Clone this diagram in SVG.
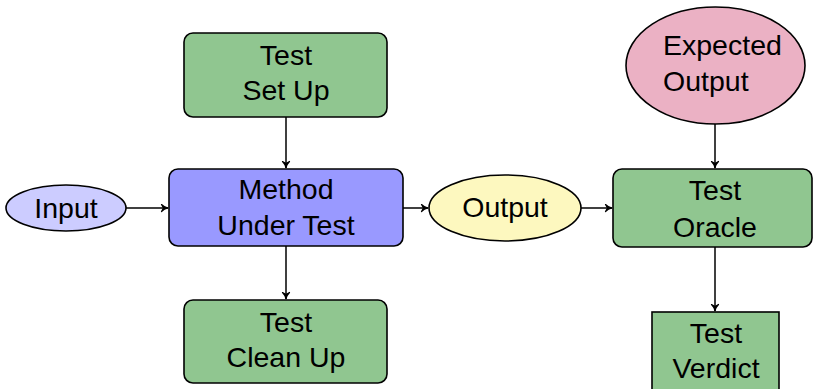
<svg xmlns="http://www.w3.org/2000/svg" width="813" height="389" viewBox="0 0 813 389">
<style>
.t{font-family:"Liberation Sans",Arial,sans-serif;font-size:28.5px;fill:#000;text-anchor:middle}
.n{stroke:#000;stroke-width:1.6}
.g{fill:#90c690}
.c{stroke:#000;stroke-width:1.5;fill:none;marker-end:url(#ah)}
</style>
<defs>
<marker id="ah" viewBox="0 0 10 10" refX="9" refY="5" markerWidth="10" markerHeight="10" markerUnits="userSpaceOnUse" orient="auto">
<path d="M2.5,1.5 Q5,4.2 9,5 Q5,5.8 2.5,8.5 L4.5,5 Z" fill="#000" stroke="#000" stroke-width="1.2" stroke-linejoin="round"/>
</marker>
</defs>
<g id="connectors">
<line class="c" x1="126" y1="208" x2="168" y2="208"/>
<line class="c" x1="286" y1="117" x2="286" y2="168"/>
<line class="c" x1="286" y1="246" x2="286" y2="299"/>
<line class="c" x1="403" y1="208" x2="428" y2="208"/>
<line class="c" x1="581" y1="208" x2="612" y2="208"/>
<line class="c" x1="715" y1="124" x2="715" y2="168"/>
<line class="c" x1="715" y1="247" x2="715" y2="311"/>
</g>
<g id="setup">
<rect class="n g" x="184" y="33" width="203" height="84" rx="9"/>
<text class="t" x="286" y="65">Test</text>
<text class="t" x="286" y="100">Set Up</text>
</g>
<g id="input">
<ellipse class="n" cx="66" cy="208" rx="60" ry="23" fill="#ccccff"/>
<text class="t" x="66" y="218">Input</text>
</g>
<g id="mut">
<rect class="n" x="169" y="169" width="234" height="77" rx="9" fill="#9999ff"/>
<text class="t" x="286" y="199">Method</text>
<text class="t" x="286" y="235">Under Test</text>
</g>
<g id="cleanup">
<rect class="n g" x="184" y="300" width="203" height="83" rx="9"/>
<text class="t" x="286" y="332">Test</text>
<text class="t" x="286" y="367">Clean Up</text>
</g>
<g id="output">
<ellipse class="n" cx="505" cy="208" rx="76" ry="33" fill="#fdf8bf"/>
<text class="t" x="505" y="217">Output</text>
</g>
<g id="expected">
<ellipse class="n" cx="715.5" cy="65.5" rx="89.5" ry="58.5" fill="#ebb1c4"/>
<text class="t" x="663" y="55" style="text-anchor:start">Expected</text>
<text class="t" x="663" y="91" style="text-anchor:start">Output</text>
</g>
<g id="oracle">
<rect class="n g" x="613" y="169" width="199" height="78" rx="9"/>
<text class="t" x="715" y="200">Test</text>
<text class="t" x="715" y="237">Oracle</text>
</g>
<g id="verdict">
<rect class="n g" x="652" y="312" width="127" height="82"/>
<text class="t" x="716" y="343">Test</text>
<text class="t" x="716" y="378">Verdict</text>
</g>
</svg>
